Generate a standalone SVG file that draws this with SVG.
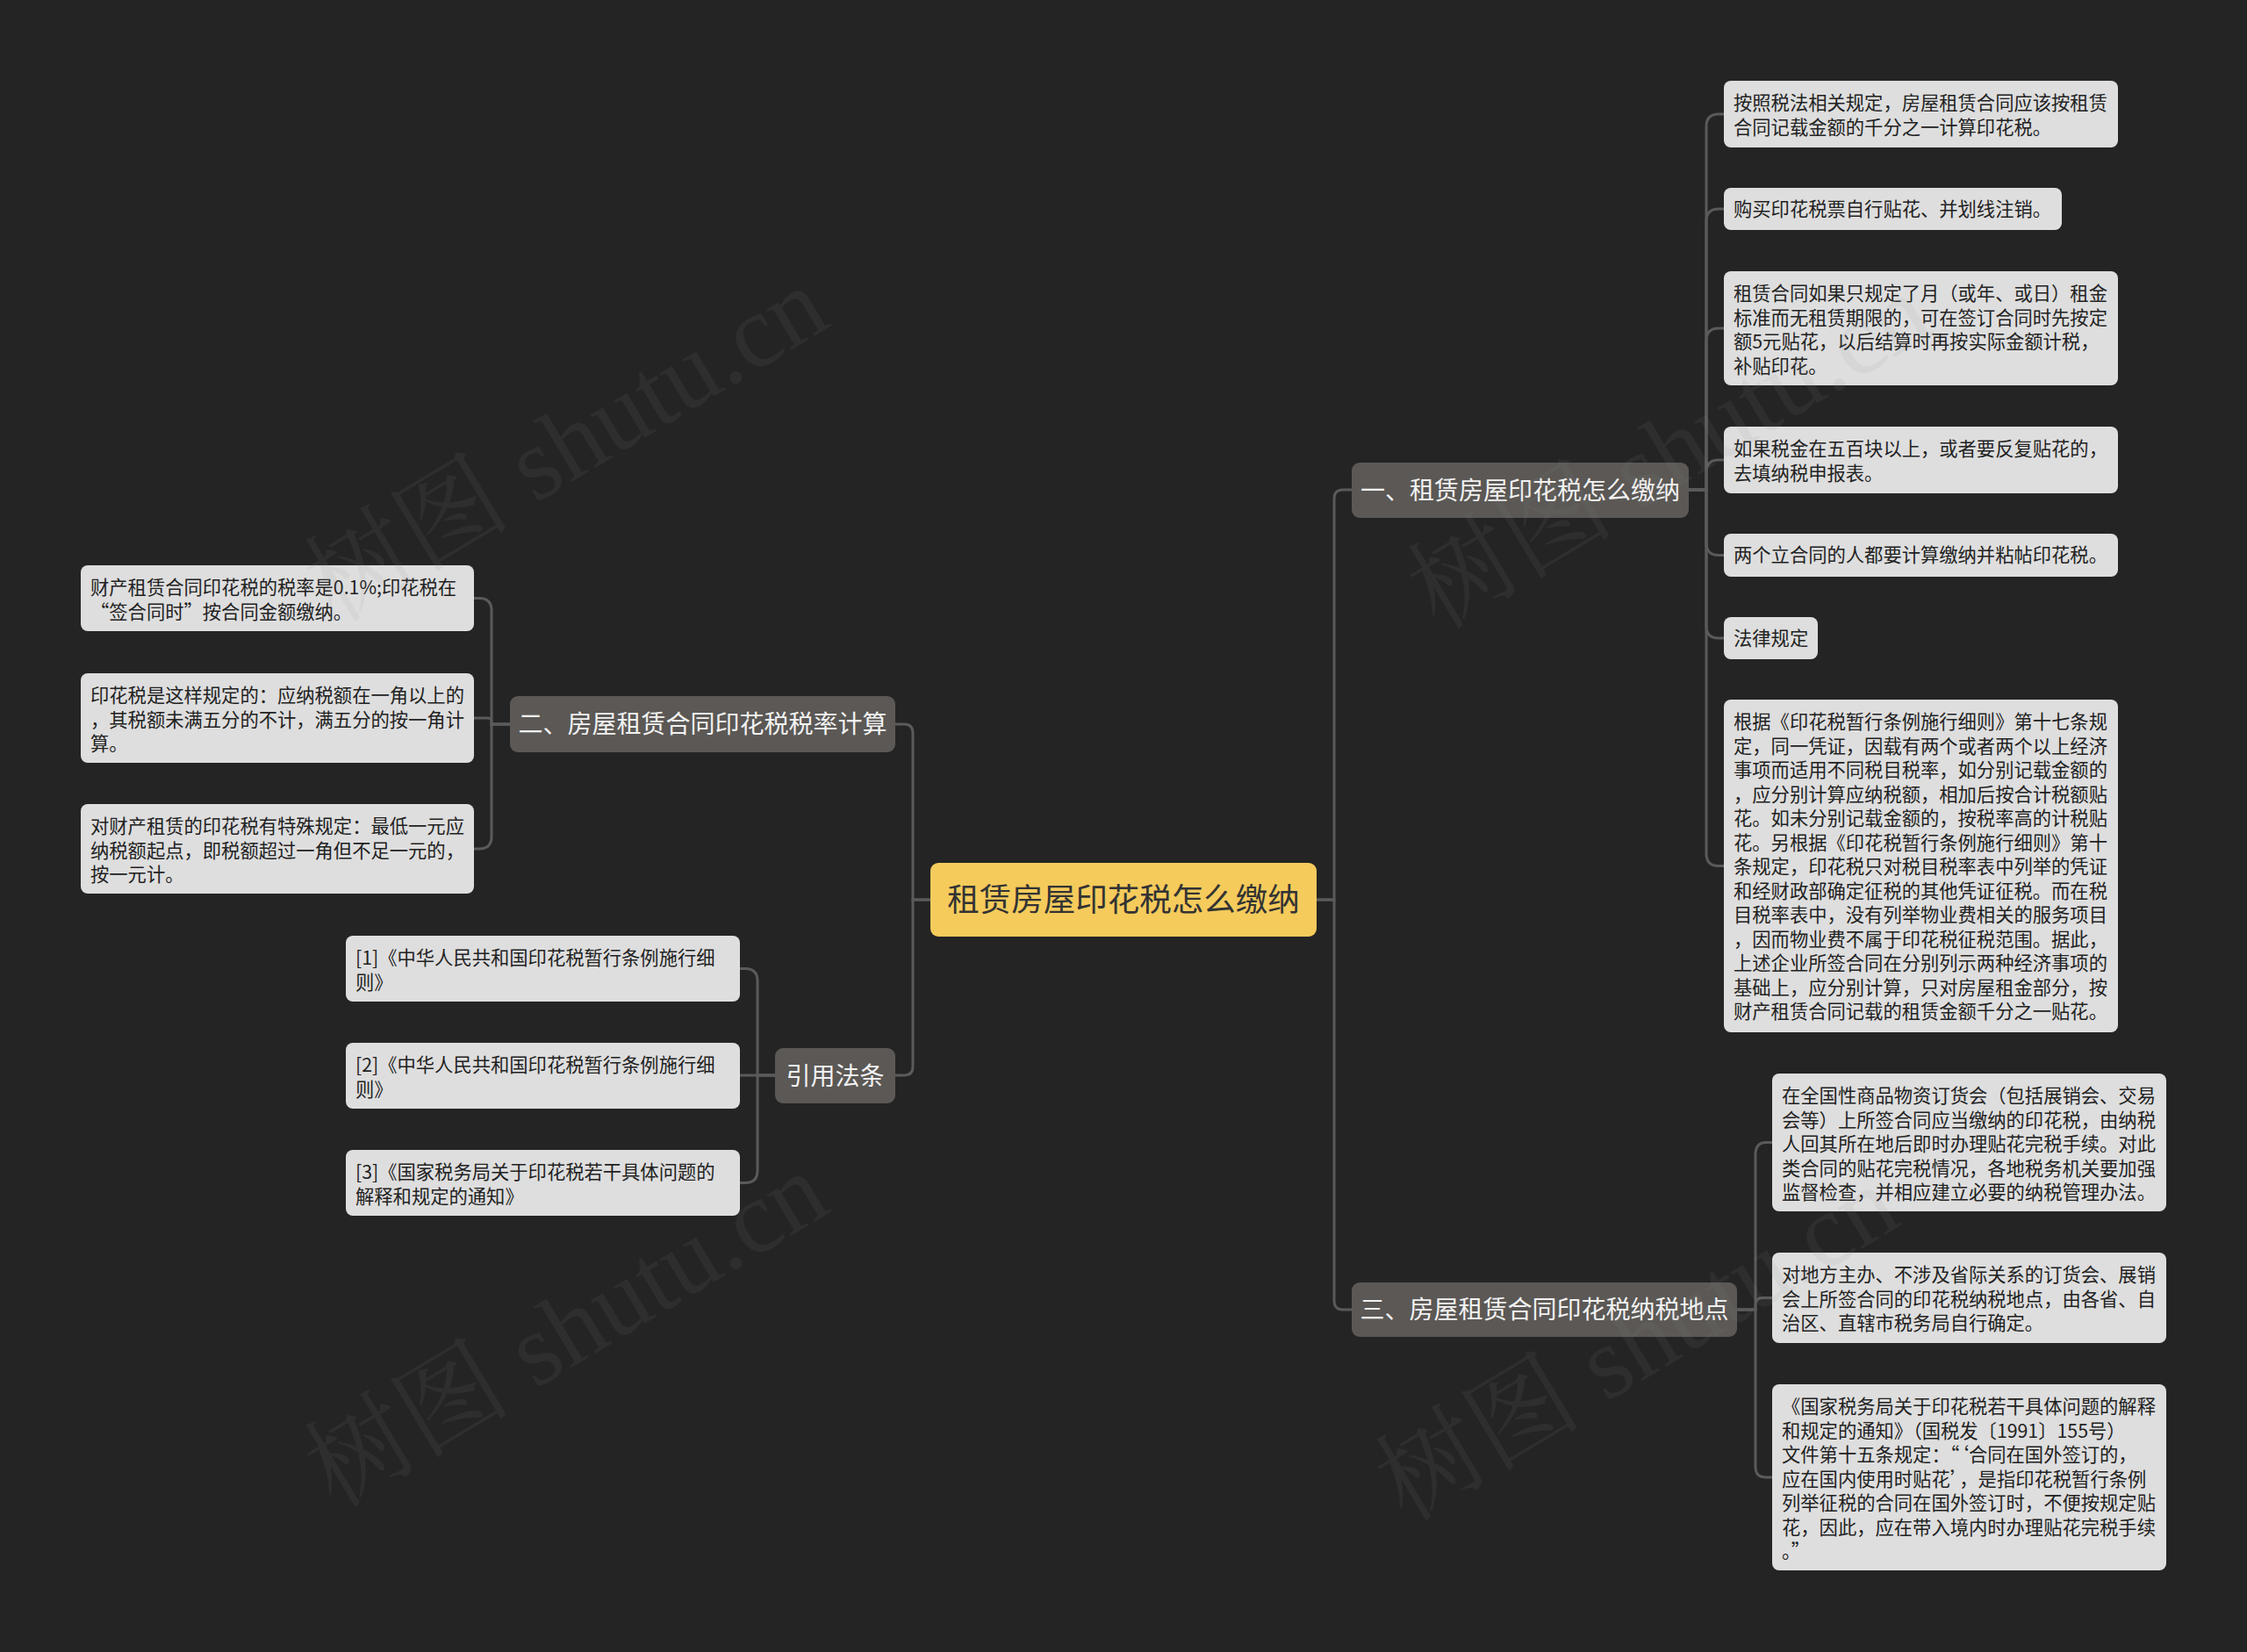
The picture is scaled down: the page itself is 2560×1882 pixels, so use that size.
<svg xmlns="http://www.w3.org/2000/svg" width="2560" height="1882" viewBox="0 0 2560 1882">
<style>
.bg{fill:#242424}
.conn path{fill:none;stroke:#5a5a5a;stroke-width:3}
.leaf rect{fill:#dedede}
.leaf text{font-family:"Noto Sans CJK SC","Noto Sans",sans-serif;font-size:21.3px;fill:#222}
.branch rect{fill:#5b5855}
.branch text{font-family:"Noto Sans CJK SC","Noto Sans",sans-serif;font-size:28px;fill:#f2f2f2;text-anchor:middle}
.root rect{fill:#f5cb5c}
.root text{font-family:"Noto Sans CJK SC","Noto Sans",sans-serif;font-size:36.5px;fill:#333;text-anchor:middle}
.wm text{font-family:"Liberation Serif","Noto Serif CJK SC","Noto Sans CJK SC",serif;font-size:118px;fill:#909090;opacity:0.09;text-anchor:middle}
</style>
<rect class="bg" x="0" y="0" width="2560" height="1882"/>
<g id="connectors" class="conn">
<path d="M1500,1025 H1520 V568 Q1520,558 1530,558 H1540"/>
<path d="M1500,1025 H1520 V1482 Q1520,1492 1530,1492 H1540"/>
<path d="M1060,1025 H1040 V835 Q1040,825 1030,825 H1020"/>
<path d="M1060,1025 H1040 V1215 Q1040,1225 1030,1225 H1020"/>
<path d="M1924,558 H1944 V144 Q1944,130 1958,130 H1964"/>
<path d="M1924,558 H1944 V252 Q1944,238 1958,238 H1964"/>
<path d="M1924,558 H1944 V388 Q1944,374 1958,374 H1964"/>
<path d="M1924,558 H1944 V538 Q1944,524 1958,524 H1964"/>
<path d="M1924,558 H1944 V618.5 Q1944,632.5 1958,632.5 H1964"/>
<path d="M1924,558 H1944 V713 Q1944,727 1958,727 H1964"/>
<path d="M1924,558 H1944 V972.5 Q1944,986.5 1958,986.5 H1964"/>
<path d="M1979,1492 H2000 V1315.5 Q2000,1301.5 2012,1301.5 H2019"/>
<path d="M1979,1492 H2000 V1486.5 Q2000,1478.5 2008,1478.5 H2019"/>
<path d="M1979,1492 H2000 V1671 Q2000,1683 2012,1683 H2019"/>
<path d="M581,825 H560 V695.5 Q560,681.5 546,681.5 H540"/>
<path d="M581,825 H560 V822 Q560,818 556,818 H540"/>
<path d="M581,825 H560 V953 Q560,967 546,967 H540"/>
<path d="M883,1225 H863 V1117.5 Q863,1103.5 849,1103.5 H843"/>
<path d="M883,1225 H843"/>
<path d="M883,1225 H863 V1333.5 Q863,1347.5 849,1347.5 H843"/>
</g>
<g id="root" class="root">
<rect x="1060" y="983" width="440" height="84" rx="9"/>
<text x="1280" y="1038">租赁房屋印花税怎么缴纳</text>
</g>
<g id="branch1" class="branch">
<rect x="1540" y="527" width="384" height="63" rx="9"/>
<text x="1732" y="569">一、租赁房屋印花税怎么缴纳</text>
</g>
<g id="branch2" class="branch">
<rect x="581" y="793" width="439" height="64" rx="9"/>
<text x="800.5" y="835">二、房屋租赁合同印花税税率计算</text>
</g>
<g id="branch-ref" class="branch">
<rect x="883" y="1194" width="137" height="63" rx="9"/>
<text x="951.5" y="1236">引用法条</text>
</g>
<g id="branch3" class="branch">
<rect x="1540" y="1461" width="439" height="62" rx="9"/>
<text x="1759.5" y="1502">三、房屋租赁合同印花税纳税地点</text>
</g>
<g id="leaf1-1" class="leaf">
<rect x="1964" y="92" width="449" height="76" rx="8"/>
<text x="1975" y="125"><tspan x="1975">按照税法相关规定，房屋租赁合同应该按租赁</tspan><tspan x="1975" dy="27.5">合同记载金额的千分之一计算印花税。</tspan></text>
</g>
<g id="leaf1-2" class="leaf">
<rect x="1964" y="214" width="385" height="48" rx="8"/>
<text x="1975" y="246">购买印花税票自行贴花、并划线注销。</text>
</g>
<g id="leaf1-3" class="leaf">
<rect x="1964" y="309" width="449" height="130" rx="8"/>
<text x="1975" y="342"><tspan x="1975">租赁合同如果只规定了月（或年、或日）租金</tspan><tspan x="1975" dy="27.5">标准而无租赁期限的，可在签订合同时先按定</tspan><tspan x="1975" dy="27.5">额5元贴花，以后结算时再按实际金额计税，</tspan><tspan x="1975" dy="27.5">补贴印花。</tspan></text>
</g>
<g id="leaf1-4" class="leaf">
<rect x="1964" y="486" width="449" height="76" rx="8"/>
<text x="1975" y="519"><tspan x="1975">如果税金在五百块以上，或者要反复贴花的，</tspan><tspan x="1975" dy="27.5">去填纳税申报表。</tspan></text>
</g>
<g id="leaf1-5" class="leaf">
<rect x="1964" y="608" width="449" height="49" rx="8"/>
<text x="1975" y="640">两个立合同的人都要计算缴纳并粘帖印花税。</text>
</g>
<g id="leaf1-6" class="leaf">
<rect x="1964" y="703" width="107" height="48" rx="8"/>
<text x="1975" y="735">法律规定</text>
</g>
<g id="leaf1-7" class="leaf">
<rect x="1964" y="797" width="449" height="379" rx="8"/>
<text x="1975" y="830"><tspan x="1975">根据《印花税暂行条例施行细则》第十七条规</tspan><tspan x="1975" dy="27.5">定，同一凭证，因载有两个或者两个以上经济</tspan><tspan x="1975" dy="27.5">事项而适用不同税目税率，如分别记载金额的</tspan><tspan x="1975" dy="27.5">，应分别计算应纳税额，相加后按合计税额贴</tspan><tspan x="1975" dy="27.5">花。如未分别记载金额的，按税率高的计税贴</tspan><tspan x="1975" dy="27.5">花。另根据《印花税暂行条例施行细则》第十</tspan><tspan x="1975" dy="27.5">条规定，印花税只对税目税率表中列举的凭证</tspan><tspan x="1975" dy="27.5">和经财政部确定征税的其他凭证征税。而在税</tspan><tspan x="1975" dy="27.5">目税率表中，没有列举物业费相关的服务项目</tspan><tspan x="1975" dy="27.5">，因而物业费不属于印花税征税范围。据此，</tspan><tspan x="1975" dy="27.5">上述企业所签合同在分别列示两种经济事项的</tspan><tspan x="1975" dy="27.5">基础上，应分别计算，只对房屋租金部分，按</tspan><tspan x="1975" dy="27.5">财产租赁合同记载的租赁金额千分之一贴花。</tspan></text>
</g>
<g id="leaf3-1" class="leaf">
<rect x="2019" y="1223" width="449" height="157" rx="8"/>
<text x="2030" y="1256"><tspan x="2030">在全国性商品物资订货会（包括展销会、交易</tspan><tspan x="2030" dy="27.5">会等）上所签合同应当缴纳的印花税，由纳税</tspan><tspan x="2030" dy="27.5">人回其所在地后即时办理贴花完税手续。对此</tspan><tspan x="2030" dy="27.5">类合同的贴花完税情况，各地税务机关要加强</tspan><tspan x="2030" dy="27.5">监督检查，并相应建立必要的纳税管理办法。</tspan></text>
</g>
<g id="leaf3-2" class="leaf">
<rect x="2019" y="1427" width="449" height="103" rx="8"/>
<text x="2030" y="1460"><tspan x="2030">对地方主办、不涉及省际关系的订货会、展销</tspan><tspan x="2030" dy="27.5">会上所签合同的印花税纳税地点，由各省、自</tspan><tspan x="2030" dy="27.5">治区、直辖市税务局自行确定。</tspan></text>
</g>
<g id="leaf3-3" class="leaf">
<rect x="2019" y="1577" width="449" height="212" rx="8"/>
<text x="2030" y="1610"><tspan x="2030">《国家税务局关于印花税若干具体问题的解释</tspan><tspan x="2030" dy="27.5">和规定的通知》（国税发〔1991〕155号）</tspan><tspan x="2030" dy="27.5">文件第十五条规定：“‘合同在国外签订的，</tspan><tspan x="2030" dy="27.5">应在国内使用时贴花’，是指印花税暂行条例</tspan><tspan x="2030" dy="27.5">列举征税的合同在国外签订时，不便按规定贴</tspan><tspan x="2030" dy="27.5">花，因此，应在带入境内时办理贴花完税手续</tspan><tspan x="2030" dy="27.5">。”</tspan></text>
</g>
<g id="leaf2-1" class="leaf">
<rect x="92" y="644" width="448" height="75" rx="8"/>
<text x="103" y="677"><tspan x="103">财产租赁合同印花税的税率是0.1%;印花税在</tspan><tspan x="103" dy="27.5">“签合同时”按合同金额缴纳。</tspan></text>
</g>
<g id="leaf2-2" class="leaf">
<rect x="92" y="767" width="448" height="102" rx="8"/>
<text x="103" y="800"><tspan x="103">印花税是这样规定的：应纳税额在一角以上的</tspan><tspan x="103" dy="27.5">，其税额未满五分的不计，满五分的按一角计</tspan><tspan x="103" dy="27.5">算。</tspan></text>
</g>
<g id="leaf2-3" class="leaf">
<rect x="92" y="916" width="448" height="102" rx="8"/>
<text x="103" y="949"><tspan x="103">对财产租赁的印花税有特殊规定：最低一元应</tspan><tspan x="103" dy="27.5">纳税额起点，即税额超过一角但不足一元的，</tspan><tspan x="103" dy="27.5">按一元计。</tspan></text>
</g>
<g id="ref1" class="leaf">
<rect x="394" y="1066" width="449" height="75" rx="8"/>
<text x="405" y="1099"><tspan x="405">[1]《中华人民共和国印花税暂行条例施行细</tspan><tspan x="405" dy="27.5">则》</tspan></text>
</g>
<g id="ref2" class="leaf">
<rect x="394" y="1188" width="449" height="75" rx="8"/>
<text x="405" y="1221"><tspan x="405">[2]《中华人民共和国印花税暂行条例施行细</tspan><tspan x="405" dy="27.5">则》</tspan></text>
</g>
<g id="ref3" class="leaf">
<rect x="394" y="1310" width="449" height="75" rx="8"/>
<text x="405" y="1343"><tspan x="405">[3]《国家税务局关于印花税若干具体问题的</tspan><tspan x="405" dy="27.5">解释和规定的通知》</tspan></text>
</g>
<g id="watermark" class="wm">
<text transform="translate(645,506) rotate(-31)" dy="40">树图 shutu.cn</text>
<text transform="translate(645,1515) rotate(-31)" dy="40">树图 shutu.cn</text>
<text transform="translate(1902,514) rotate(-31)" dy="40">树图 shutu.cn</text>
<text transform="translate(1865,1530) rotate(-31)" dy="40">树图 shutu.cn</text>
</g>
</svg>
